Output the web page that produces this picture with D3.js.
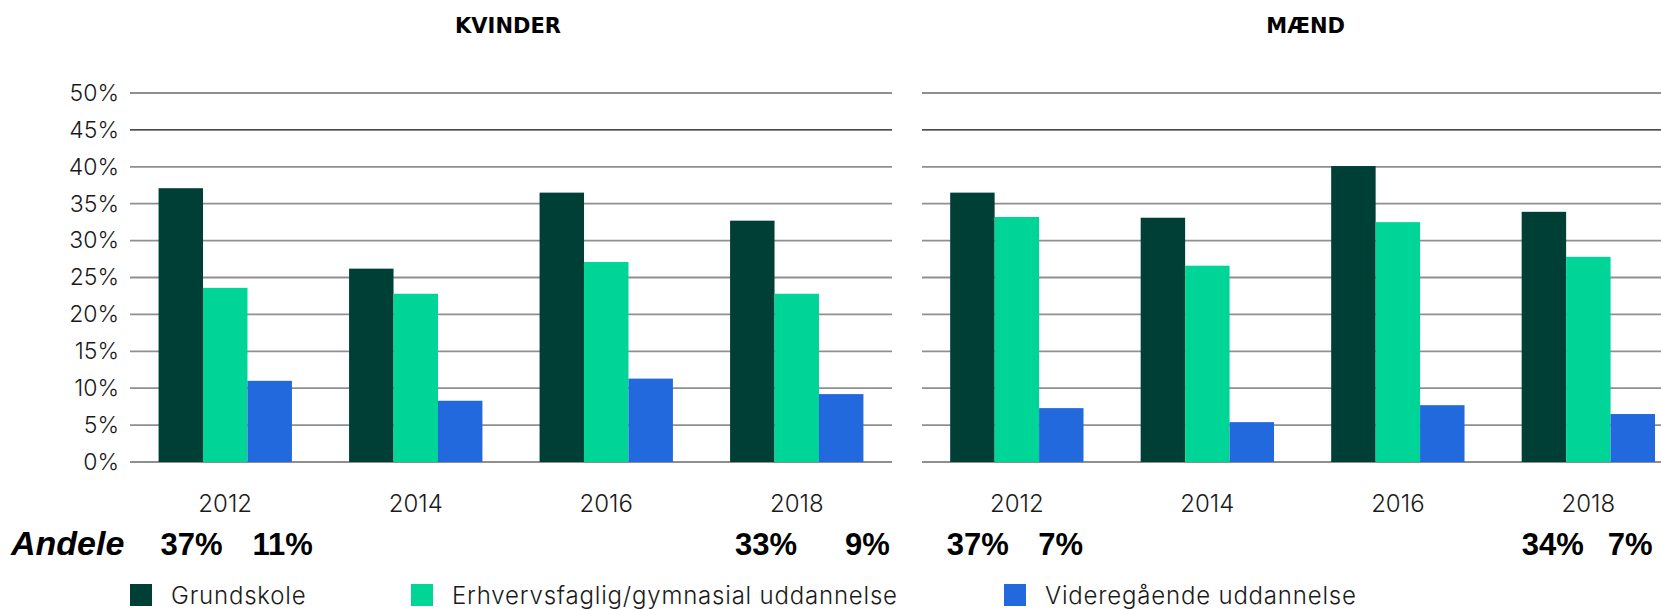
<!DOCTYPE html>
<html>
<head>
<meta charset="utf-8">
<script src="https://cdn.jsdelivr.net/npm/d3@7"></script>
<style>
  body { margin: 0; background: #fff; }
  .tick-label { font-family: "Inter", "Lato", sans-serif; font-weight: 300; font-size: 23px; fill: #1a1a1a; }
  .year-label { font-family: "Inter", "Lato", sans-serif; font-weight: 300; font-size: 24px; fill: #1a1a1a; }
  .legend-label { font-family: "Inter", "Lato", sans-serif; font-weight: 300; font-size: 24px; letter-spacing: 0.8px; fill: #1a1a1a; }
  .title { font-family: "DejaVu Sans", sans-serif; font-weight: bold; font-size: 21px; fill: #000; }
  .andele { font-family: "Liberation Sans", Arial, sans-serif; font-weight: bold; font-size: 31px; fill: #000; }
  .andele-head { font-family: "Liberation Sans", Arial, sans-serif; font-weight: bold; font-style: italic; font-size: 34px; fill: #000; }
</style>
</head>
<body>
<svg id="chart" width="1661" height="610"></svg>
<script>
const years = ["2012", "2014", "2016", "2018"];
const series = ["Grundskole", "Erhvervsfaglig/gymnasial uddannelse", "Videregående uddannelse"];
const seriesColors = ["#003f36", "#00d598", "#2369de"];
const yTicks = [0, 5, 10, 15, 20, 25, 30, 35, 40, 45, 50];
const panelTitles = ["KVINDER", "MÆND"];

// andele i procent
const kvinderGrundskole = [37.1, 26.2, 36.5, 32.7];
const kvinderErhverv = [23.6, 22.8, 27.1, 22.8];
const kvinderVideregaaende = [11.0, 8.3, 11.3, 9.2];
const maendGrundskole = [36.5, 33.1, 40.1, 33.9];
const maendErhverv = [33.2, 26.6, 32.5, 27.8];
const maendVideregaaende = [7.3, 5.4, 7.7, 6.5];

const andeleYears = ["2012", "2018"];
const andeleKvinder = [["37%", "11%"], ["33%", "9%"]];
const andeleMaend = [["37%", "7%"], ["34%", "7%"]];

const svg = d3.select("#chart");

const y = d3.scaleLinear().domain([0, 50]).range([462, 93]);

const panels = [
  {title: panelTitles[0], titleDx: -3, x0: 130, data: [kvinderGrundskole, kvinderErhverv, kvinderVideregaaende],
   andele: andeleKvinder, dx: [[2, 94], [5, 115]], gridFrom: 130, gridTo: 892, yLabels: true},
  {title: panelTitles[1], titleDx: 3, x0: 921.6, data: [maendGrundskole, maendErhverv, maendVideregaaende],
   andele: andeleMaend, dx: [[-3.5, 88], [0, 86]], gridFrom: 922, gridTo: 1661, yLabels: false}
];

panels.forEach(p => {
  const x = d3.scaleBand().domain(years).range([p.x0, p.x0 + 762]).paddingInner(0.3).paddingOuter(0.15);
  const xs = d3.scaleBand().domain(series).range([0, x.bandwidth()]);
  const g = svg.append("g");

  // gitterlinjer
  g.selectAll("line.grid")
    .data(yTicks)
    .enter().append("line")
    .attr("class", "grid")
    .attr("x1", p.gridFrom).attr("x2", p.gridTo)
    .attr("y1", d => y(d)).attr("y2", d => y(d))
    .attr("stroke", d => d === 45 ? "#111" : "#8f8f8f")
    .attr("stroke-width", d => d === 45 ? 1.3 : 1.8);

  if (p.yLabels) {
    const ax = g.append("g")
      .attr("transform", "translate(119,0)")
      .call(d3.axisLeft(y).tickValues(yTicks).tickFormat(d => d + "%").tickSize(0).tickPadding(0));
    ax.select(".domain").remove();
    ax.selectAll("text").attr("class", "tick-label").attr("fill", null).attr("font-family", null).attr("font-size", null);
  }

  const rows = years.map((yr, i) => ({year: yr, values: p.data.map(s => s[i])}));

  const groups = g.selectAll("g.year")
    .data(rows)
    .enter().append("g")
    .attr("transform", d => `translate(${x(d.year)},0)`);

  groups.selectAll("rect")
    .data(d => d.values.map((v, j) => ({key: series[j], value: v, color: seriesColors[j]})))
    .enter().append("rect")
    .attr("x", d => xs(d.key))
    .attr("y", d => y(d.value))
    .attr("width", xs.bandwidth())
    .attr("height", d => y(0) - y(d.value))
    .attr("fill", d => d.color);

  groups.append("text")
    .attr("class", "year-label")
    .attr("x", x.bandwidth() / 2)
    .attr("y", 512)
    .attr("text-anchor", "middle")
    .text(d => d.year);

  const [r0, r1] = x.range();
  svg.append("text")
    .attr("class", "title")
    .attr("x", (r0 + r1) / 2 + p.titleDx)
    .attr("y", 33)
    .attr("text-anchor", "middle")
    .text(p.title);

  andeleYears.forEach((yr, i) => {
    p.andele[i].forEach((txt, k) => {
      svg.append("text")
        .attr("class", "andele")
        .attr("x", x(yr) + p.dx[i][k])
        .attr("y", 555)
        .text(txt);
    });
  });
});

svg.append("text")
  .attr("class", "andele-head")
  .attr("x", 11)
  .attr("y", 555)
  .text("Andele");

// forklaring
const legendX = [130, 411, 1004];
const legend = svg.selectAll("g.legend")
  .data(series)
  .enter().append("g")
  .attr("transform", (d, i) => `translate(${legendX[i]},584)`);

legend.append("rect")
  .attr("width", 22).attr("height", 22)
  .attr("fill", (d, i) => seriesColors[i]);

legend.append("text")
  .attr("class", "legend-label")
  .attr("x", 41)
  .attr("y", 20)
  .text(d => d);
</script>
</body>
</html>
